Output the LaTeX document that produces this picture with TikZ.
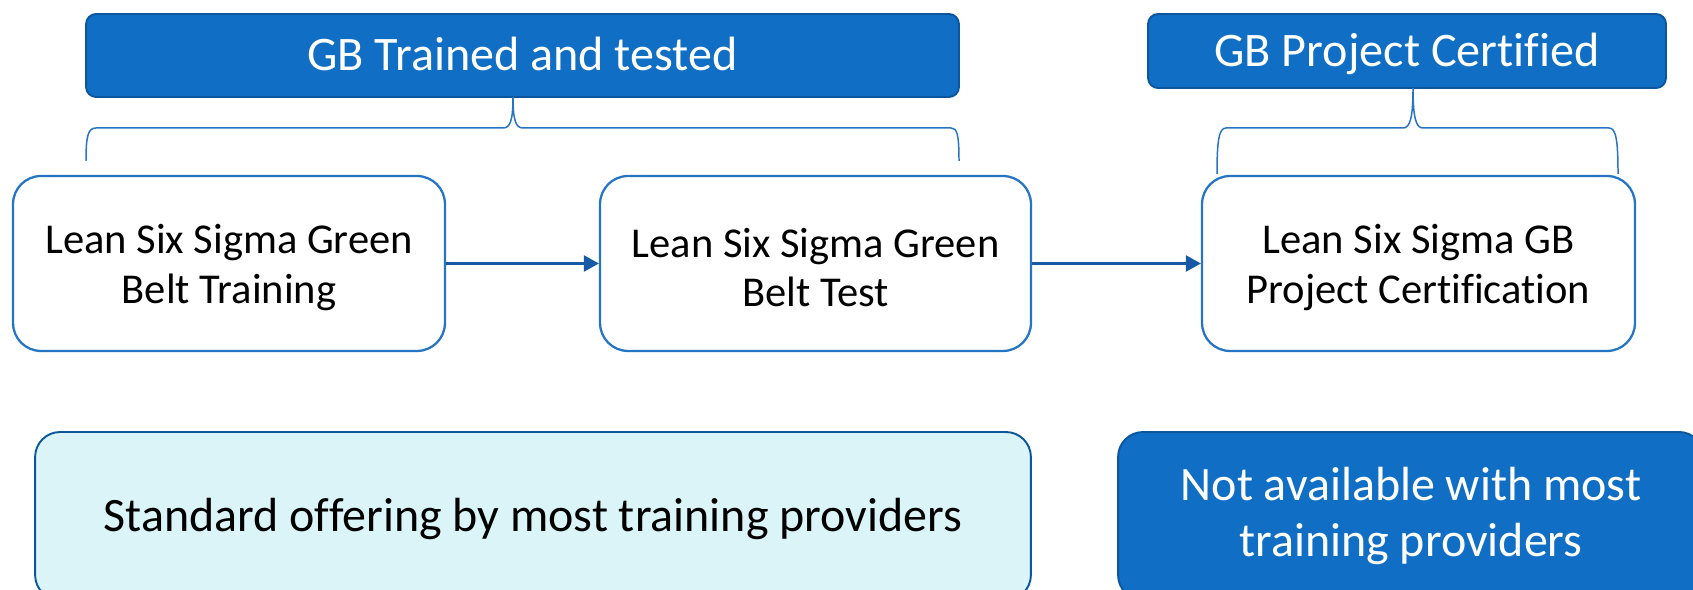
\documentclass[tikz,border=0pt]{standalone}
\usepackage{fontspec}
\setmainfont{Carlito}[Ligatures=NoCommon]
\usetikzlibrary{arrows.meta}
\definecolor{offblue}{RGB}{16,111,197}
\definecolor{darkblue}{RGB}{14,86,156}
\definecolor{arrowblue}{RGB}{22,90,165}
\definecolor{lineblue}{RGB}{38,117,197}
\definecolor{lightcyan}{RGB}{219,244,248}
\begin{document}
\begin{tikzpicture}[x=0.02cm,y=-0.02cm,
  header/.style={draw=darkblue, line width=1.1pt, fill=offblue, rounded corners=0.2cm,
    text=white, font=\fontsize{27.4}{32}\selectfont, inner sep=0pt,
    text height=17.6pt, text depth=0pt},
  stepbox/.style={draw=lineblue, line width=1.3pt, fill=white, rounded corners=0.56cm,
    inner sep=0pt, minimum height=3.5cm},
  steptext/.style={align=center, font=\fontsize{24.2}{28.3}\selectfont, inner sep=0pt, yshift=-4*0.02cm},
  noteboxlight/.style={draw=darkblue, line width=1.1pt, fill=lightcyan, rounded corners=0.5cm,
    align=center, font=\fontsize{27.3}{32.3}\selectfont, inner sep=0pt, minimum height=3.36cm,
    text height=17.6pt, text depth=0pt},
  noteboxdark/.style={draw=darkblue, line width=1.1pt, fill=offblue, text=white, rounded corners=0.5cm,
    align=center, font=\fontsize{27.3}{32.3}\selectfont, inner sep=0pt, minimum height=3.36cm},
  flow/.style={draw=arrowblue, line width=1.5pt, -{Triangle[length=8.5pt,width=9pt]}},
  bracket/.style={draw=lineblue, line width=0.85pt},
]
\useasboundingbox (0,0) rectangle (1693,590);
\clip (0,0) rectangle (1693,590);

% header boxes
\node[header, minimum width=17.46cm, minimum height=1.66cm] (h1) at (522.5,55.5) {GB Trained and tested};
\node[header, minimum width=10.36cm, minimum height=1.48cm] (h2) at (1407,51) {GB Project Certified};

% step boxes
\node[stepbox, minimum width=8.64cm, label={[steptext]center:{Lean Six Sigma Green\\Belt Training}}] (b1) at (229,263.5) {};
\node[stepbox, minimum width=8.62cm, label={[steptext]center:{Lean Six Sigma Green\\Belt Test}}] (b2) at (815.5,263.5) {};
\node[stepbox, minimum width=8.66cm, label={[steptext]center:{Lean Six Sigma GB\\Project Certification}}] (b3) at (1418.5,263.5) {};

\draw[flow] (b1) -- (b2);
\draw[flow] (b2) -- (b3);

% braces
\coordinate (aL) at (86,161);
\coordinate (aT) at (513,97);
\coordinate (aR) at (959,161);
\draw[bracket] (aL) .. controls (86,136) and (88,128) .. (96,128) -- (503,128)
  .. controls (510,128) and (513,121) .. (aT)
  .. controls (513,121) and (516,128) .. (523,128) -- (951,128)
  .. controls (957,128) and (959,134) .. (aR);

\coordinate (cL) at (1217,174);
\coordinate (cT) at (1413,88);
\coordinate (cR) at (1618,174);
\draw[bracket] (cL) .. controls (1217,140) and (1219,128) .. (1226,128) -- (1403,128)
  .. controls (1410,128) and (1413,118) .. (cT)
  .. controls (1413,118) and (1416,128) .. (1423,128) -- (1609,128)
  .. controls (1616,128) and (1618,140) .. (cR);

% bottom notes
\node[noteboxlight, minimum width=19.92cm] (n1) at (533,516) {Standard offering by most training providers};
\node[noteboxdark, minimum width=11.72cm] (n2) at (1411,516) {Not available with most\\training providers};
\end{tikzpicture}
\end{document}
